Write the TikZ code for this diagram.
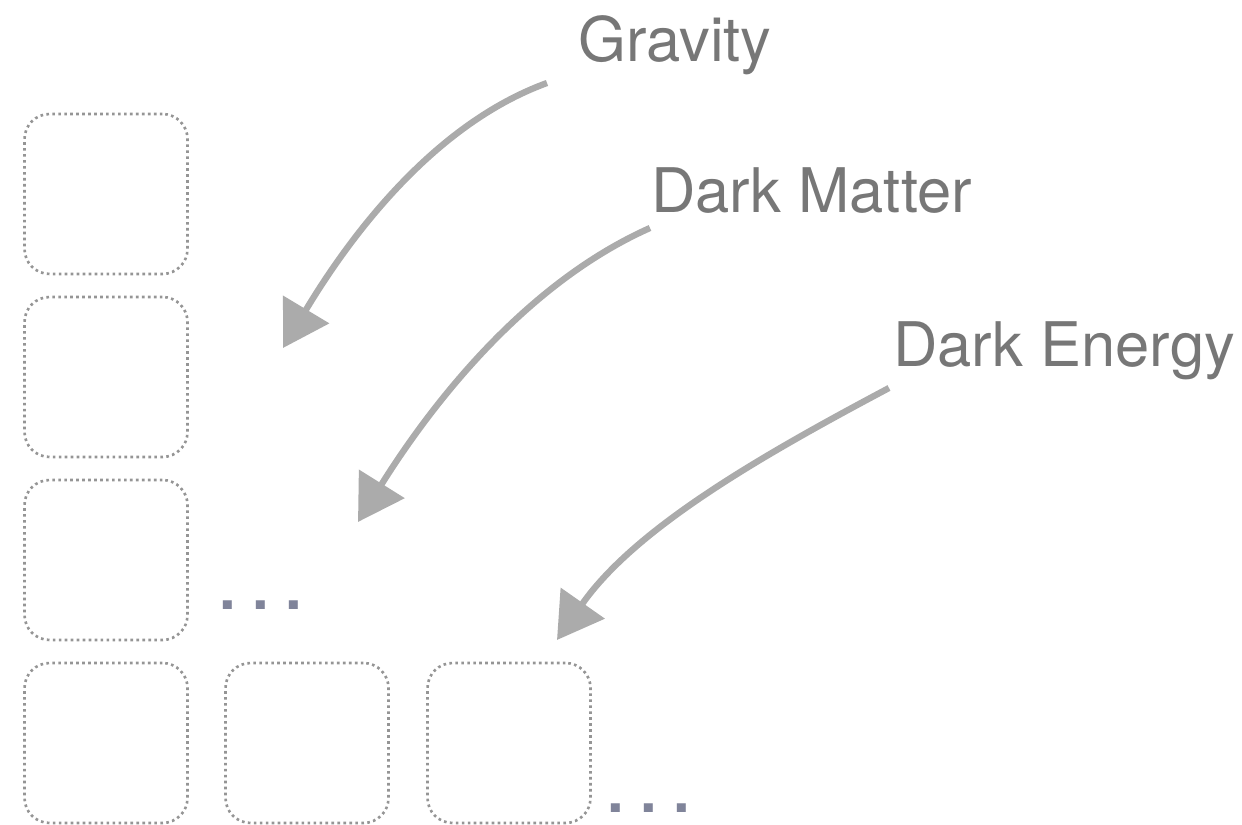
\documentclass[tikz,border=0pt]{standalone}
\usepackage{fontspec}
\setmainfont{TeX Gyre Heros}
\usepackage{tikz}
\usetikzlibrary{arrows.meta}

\definecolor{labelgray}{HTML}{777777}
\definecolor{boxgray}{HTML}{959595}
\definecolor{arrowgray}{HTML}{ABABAB}
\definecolor{dotslate}{HTML}{80849A}

\begin{document}
\begin{tikzpicture}[x=0.02cm, y=0.02cm,
  slot/.style = {draw=boxgray, line width=1.5pt, dash pattern=on 1.5pt off 1.9pt, rounded corners=0.5cm, minimum width=3.26cm, minimum height=3.2cm, inner sep=0pt},
  force/.style = {text=labelgray, font=\fontsize{35}{40}\selectfont, anchor=base west, inner sep=0pt},
  more/.style = {text=dotslate, font=\fontsize{34}{40}\selectfont\bfseries, anchor=base west, inner sep=0pt},
  pull/.style = {arrowgray, line width=3.6pt, looseness=0.85, -{Triangle[length=0.9cm, width=1.05cm]}}]
  \useasboundingbox (0,0) rectangle (1242,825);

  %left column
  \node[slot] (s1) at (106,631) {};
  \node[slot] (s2) at (106,448) {};
  \node[slot] (s3) at (106,265) {};
  \node[slot] (s4) at (106,82) {};
  %bottom row
  \node[slot] (s5) at (307,82) {};
  \node[slot] (s6) at (509,82) {};

  %more slots
  \node[more] (dots1) at (219,215) {.\hspace{0.33cm}.\hspace{0.33cm}.};
  \node[more] (dots2) at (607,12) {.\hspace{0.33cm}.\hspace{0.33cm}.};

  %labels
  \node[force] (grav) at (578,763) {Gravity};
  \node[force] (dm) at (651,612) {Dark Matter};
  \node[force] (de) at (893,458) {Dark Energy};

  %gravity arrow
  \coordinate (gtail) at (547,742);
  \coordinate (gtip) at (283,477);
  \draw[pull] (gtail) to[out=200, in=59] (gtip);

  %dark matter arrow
  \coordinate (mtail) at (650,597);
  \coordinate (mtip) at (358,303);
  \draw[pull] (mtail) to[out=204, in=58] (mtip);

  %dark energy arrow
  \coordinate (etail) at (889,437);
  \coordinate (etip) at (557,185);
  \draw[pull] (etail) to[out=208, in=55] (etip);
\end{tikzpicture}
\end{document}
